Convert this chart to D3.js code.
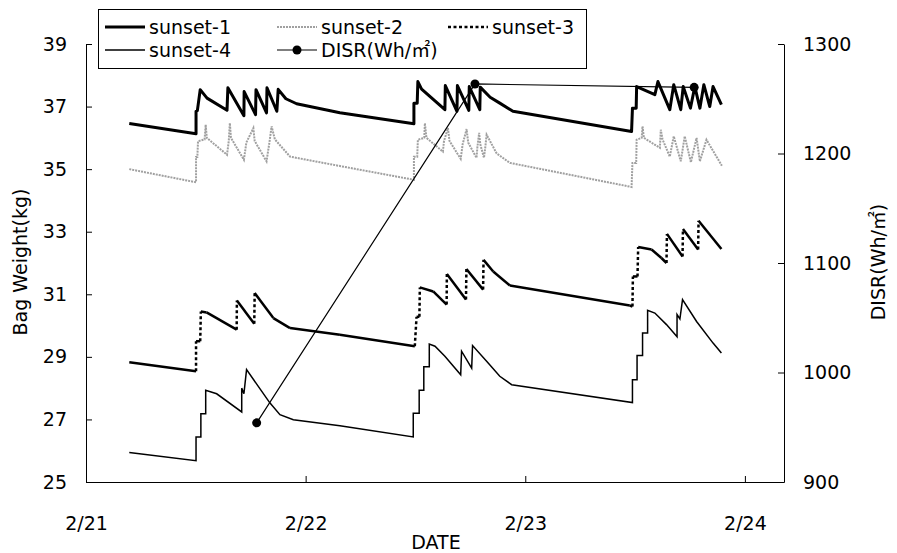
<!DOCTYPE html>
<html>
<head>
<meta charset="utf-8">
<script src="https://cdn.jsdelivr.net/npm/d3@7"></script>
<style>
  body { margin: 0; background: #fff; }
  text { font-family: "DejaVu Sans", "Noto Sans CJK KR", sans-serif; }
</style>
</head>
<body>
<div id="wrapper"></div>
<script>
// 1. Access data (x = days since 2/21 00:00)
const dateLabels = ["2/21", "2/22", "2/23", "2/24"]
const leftTicks = [25, 27, 29, 31, 33, 35, 37, 39]
const rightTicks = [900, 1000, 1100, 1200, 1300]

const sunset1 = [
  [0.197,36.46],[0.501,36.13],[0.501,36.85],[0.507,36.87],[0.52,37.54],[0.551,37.27],
  [0.642,36.88],[0.646,37.6],[0.719,36.71],[0.72,37.48],[0.772,36.74],[0.774,37.54],
  [0.822,36.8],[0.824,37.6],[0.869,36.85],[0.875,37.55],[0.91,37.25],[0.959,37.09],
  [1.156,36.8],[1.493,36.45],[1.493,37.11],[1.508,37.11],[1.511,37.8],[1.528,37.56],
  [1.634,36.9],[1.636,37.67],[1.689,36.85],[1.691,37.67],[1.743,36.88],[1.745,37.64],
  [1.793,36.9],[1.795,37.62],[1.84,37.3],[1.884,37.11],[1.944,36.85],[2.484,36.2],
  [2.488,36.95],[2.505,36.95],[2.507,37.64],[2.59,37.38],[2.604,37.8],[2.658,36.9],
  [2.676,37.7],[2.708,36.9],[2.719,37.64],[2.752,36.95],[2.772,37.64],[2.795,36.95],
  [2.813,37.7],[2.84,37.0],[2.855,37.64],[2.893,37.06]
]

const sunset2 = [
  [0.197,35.0],[0.501,34.58],[0.501,35.39],[0.507,35.39],[0.51,35.89],[0.54,35.95],
  [0.545,36.42],[0.55,36.0],[0.642,35.46],[0.65,35.9],[0.655,36.47],[0.66,36.0],
  [0.719,35.3],[0.73,35.85],[0.762,36.31],[0.768,35.9],[0.822,35.25],[0.835,35.85],
  [0.845,36.37],[0.86,35.95],[0.929,35.4],[1.156,35.1],[1.493,34.66],[1.493,35.4],
  [1.508,35.4],[1.511,35.94],[1.54,36.0],[1.543,36.47],[1.55,36.0],[1.625,35.56],
  [1.63,35.9],[1.648,36.31],[1.655,35.9],[1.706,35.33],[1.715,35.8],[1.733,36.28],
  [1.74,35.85],[1.778,35.36],[1.782,35.7],[1.79,36.16],[1.795,35.8],[1.812,35.36],
  [1.818,35.7],[1.824,36.1],[1.87,35.5],[1.93,35.2],[2.484,34.43],[2.488,35.2],
  [2.505,35.2],[2.507,35.94],[2.53,36.0],[2.534,36.37],[2.54,36.0],[2.613,35.68],
  [2.617,36.26],[2.625,35.95],[2.658,35.4],[2.676,36.05],[2.708,35.25],[2.726,36.05],
  [2.754,35.22],[2.78,36.0],[2.795,35.25],[2.825,35.94],[2.895,35.11]
]

const sunset3 = [
  [0.197,28.83],[0.501,28.54],[0.501,29.5],[0.52,29.5],[0.523,30.45],[0.549,30.42],
  [0.686,29.87],[0.687,30.8],[0.766,30.06],[0.768,31.04],[0.853,30.24],[0.929,29.92],
  [1.156,29.71],[1.497,29.34],[1.505,30.28],[1.518,30.28],[1.52,31.22],[1.581,31.09],
  [1.642,30.67],[1.643,31.65],[1.73,30.83],[1.732,31.81],[1.808,31.15],[1.81,32.1],
  [1.854,31.73],[1.93,31.28],[2.476,30.64],[2.488,30.61],[2.49,31.57],[2.511,31.57],
  [2.514,32.51],[2.575,32.43],[2.62,32.16],[2.643,32.0],[2.645,32.93],[2.716,32.21],
  [2.718,33.09],[2.787,32.43],[2.789,33.35],[2.893,32.45]
]

const sunset4 = [
  [0.197,25.94],[0.501,25.68],[0.501,26.44],[0.523,26.44],[0.523,27.18],[0.545,27.18],
  [0.545,27.93],[0.595,27.82],[0.709,27.24],[0.709,28.0],[0.719,27.82],[0.731,28.59],
  [0.837,27.53],[0.883,27.15],[0.944,26.99],[1.156,26.8],[1.49,26.44],[1.49,27.2],
  [1.517,27.2],[1.517,27.93],[1.538,27.93],[1.538,28.68],[1.563,28.68],[1.563,29.41],
  [1.589,29.34],[1.634,29.02],[1.706,28.43],[1.71,29.18],[1.756,28.64],[1.76,29.36],
  [1.824,28.86],[1.884,28.38],[1.938,28.11],[2.488,27.54],[2.488,28.27],[2.509,28.27],
  [2.509,29.04],[2.534,29.04],[2.534,29.76],[2.557,29.76],[2.557,30.49],[2.59,30.4],
  [2.643,30.03],[2.691,29.64],[2.691,30.35],[2.704,30.21],[2.716,30.83],[2.78,30.13],
  [2.855,29.44],[2.893,29.12]
]

const disr = [[0.777,954],[1.771,1263.5],[2.769,1260.4]]

// 2. Create chart dimensions
const width = 897
const height = 553
const plot = { left: 86, right: 784, top: 44, bottom: 482 }

// 3. Draw canvas
const svg = d3.select("#wrapper").append("svg")
  .attr("width", width)
  .attr("height", height)

// 4. Create scales
const xScale = d3.scaleLinear().domain([0, 3.178]).range([plot.left, plot.right])
const yScale = d3.scaleLinear().domain([25, 39]).range([plot.bottom, plot.top])
const y2Scale = d3.scaleLinear().domain([900, 1300]).range([plot.bottom, plot.top])

// 5. Draw peripherals
const axisFont = "19px"

const xAxis = svg.append("g")
  .attr("transform", `translate(0,${plot.bottom})`)
  .call(d3.axisBottom(xScale).tickValues([0, 1, 2, 3])
    .tickFormat(d => dateLabels[d]).tickSizeInner(-6).tickSizeOuter(0).tickPadding(35))

const yAxis = svg.append("g")
  .attr("transform", `translate(${plot.left},0)`)
  .call(d3.axisLeft(yScale).tickValues(leftTicks)
    .tickSizeInner(-6).tickSizeOuter(0).tickPadding(19))

const y2Axis = svg.append("g")
  .attr("transform", `translate(${plot.right},0)`)
  .call(d3.axisRight(y2Scale).tickValues(rightTicks).tickFormat(d3.format("d"))
    .tickSizeInner(-6).tickSizeOuter(0).tickPadding(19))

svg.selectAll(".domain, .tick line").attr("stroke", "#000")
svg.selectAll(".tick text")
  .style("font-size", axisFont)
  .style("font-family", "'DejaVu Sans', sans-serif")
  .attr("fill", "#000")

svg.append("text")
  .attr("x", 436).attr("y", 549)
  .attr("text-anchor", "middle")
  .style("font-size", axisFont)
  .text("DATE")

svg.append("text")
  .attr("transform", "translate(27,262) rotate(-90)")
  .attr("text-anchor", "middle")
  .style("font-size", axisFont)
  .text("Bag Weight(kg)")

svg.append("text")
  .attr("transform", "translate(885,262) rotate(-90)")
  .attr("text-anchor", "middle")
  .style("font-size", axisFont)
  .text("DISR(Wh/㎡)")

// 6. Draw data
const line = d3.line().x(d => xScale(d[0])).y(d => yScale(d[1]))

svg.append("path").datum(sunset2)
  .attr("d", line).attr("fill", "none")
  .attr("stroke", "#a0a0a0").attr("stroke-width", 2)
  .attr("stroke-dasharray", "2,1")

svg.append("path").datum(sunset4)
  .attr("d", line).attr("fill", "none")
  .attr("stroke", "#000").attr("stroke-width", 1.5)

// dotted series: Excel restarts the dash per segment, so the short decays look solid
svg.append("g").selectAll("line")
  .data(d3.pairs(sunset3))
  .join("line")
  .attr("x1", d => xScale(d[0][0])).attr("y1", d => yScale(d[0][1]))
  .attr("x2", d => xScale(d[1][0])).attr("y2", d => yScale(d[1][1]))
  .attr("stroke", "#000").attr("stroke-width", 2.5)
  .attr("stroke-dasharray", d => d[1][1] - d[0][1] > 0.3 ? "3,2.5" : null)

svg.append("path").datum(sunset1)
  .attr("d", line).attr("fill", "none")
  .attr("stroke", "#000").attr("stroke-width", 3)
  .attr("stroke-linejoin", "round")

const line2 = d3.line().x(d => xScale(d[0])).y(d => y2Scale(d[1]))
svg.append("path").datum(disr)
  .attr("d", line2).attr("fill", "none")
  .attr("stroke", "#000").attr("stroke-width", 1.2)
svg.selectAll(".disr-dot").data(disr).join("circle")
  .attr("class", "disr-dot")
  .attr("cx", d => xScale(d[0])).attr("cy", d => y2Scale(d[1]))
  .attr("r", 4.5).attr("fill", "#000")

// 7. Legend
const legend = svg.append("g")
legend.append("rect")
  .attr("x", 98.5).attr("y", 9.5).attr("width", 488).attr("height", 59)
  .attr("fill", "#fff").attr("stroke", "#000")

const legendItems = [
  { name: "sunset-1", x: 105, y: 27, width: 3, color: "#000", dash: null },
  { name: "sunset-2", x: 277, y: 27, width: 2, color: "#a0a0a0", dash: "2,1" },
  { name: "sunset-3", x: 448, y: 27, width: 2.5, color: "#000", dash: "3,2.5" },
  { name: "sunset-4", x: 105, y: 50, width: 1.5, color: "#000", dash: null },
  { name: "DISR(Wh/㎡)", x: 277, y: 50, width: 1.2, color: "#000", dash: null, dot: true },
]
legendItems.forEach(d => {
  legend.append("line")
    .attr("x1", d.x).attr("x2", d.x + 40).attr("y1", d.y).attr("y2", d.y)
    .attr("stroke", d.color).attr("stroke-width", d.width)
    .attr("stroke-dasharray", d.dash)
  if (d.dot) {
    legend.append("circle").attr("cx", d.x + 20).attr("cy", d.y).attr("r", 4.5)
  }
  legend.append("text")
    .attr("x", d.x + 44).attr("y", d.y)
    .attr("dy", "0.35em")
    .style("font-size", axisFont)
    .text(d.name)
})
</script>
</body>
</html>
